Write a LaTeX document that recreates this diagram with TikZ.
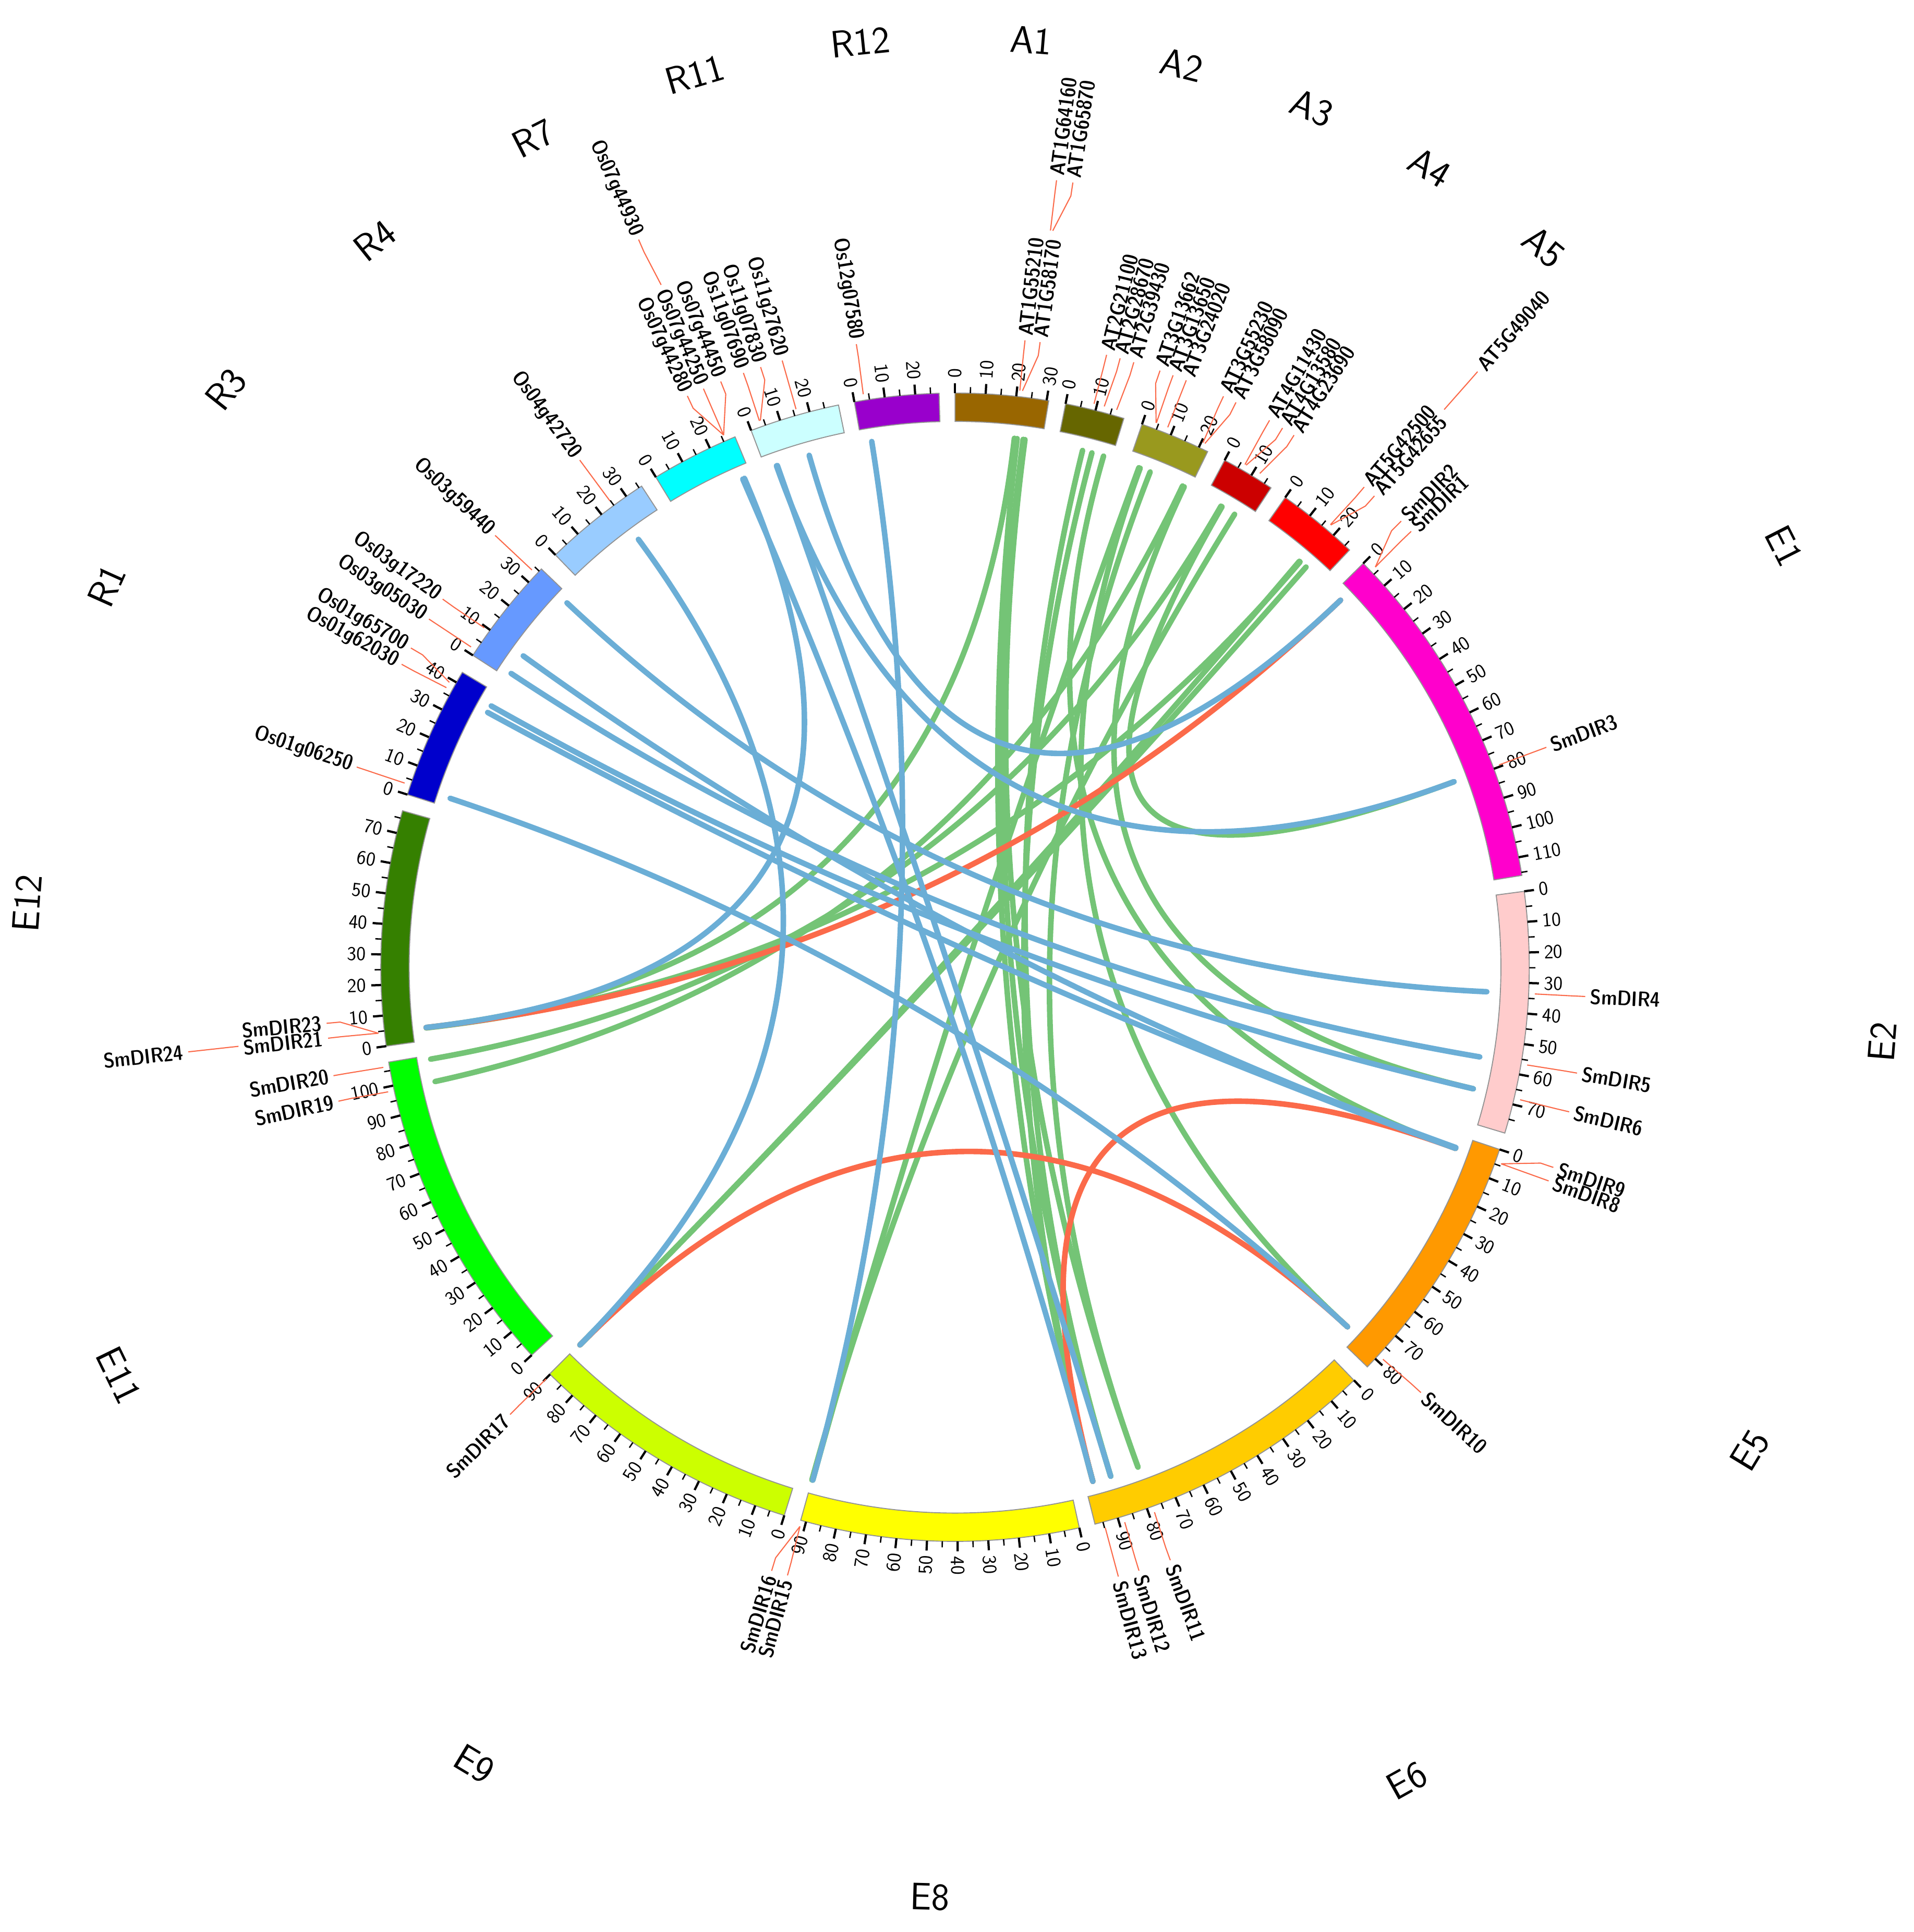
\documentclass[tikz,border=0pt]{standalone}
\usetikzlibrary{calc}

% chromosome colours
\definecolor{cA1}{HTML}{996600}
\definecolor{cA2}{HTML}{666600}
\definecolor{cA3}{HTML}{99991E}
\definecolor{cA4}{HTML}{CC0000}
\definecolor{cA5}{HTML}{FF0000}
\definecolor{cE1}{HTML}{FF00CC}
\definecolor{cE2}{HTML}{FFCCCC}
\definecolor{cE5}{HTML}{FF9900}
\definecolor{cE6}{HTML}{FFCC00}
\definecolor{cE8}{HTML}{FFFF00}
\definecolor{cE9}{HTML}{CCFF00}
\definecolor{cE11}{HTML}{00FF00}
\definecolor{cE12}{HTML}{358000}
\definecolor{cR1}{HTML}{0000CC}
\definecolor{cR3}{HTML}{6699FF}
\definecolor{cR4}{HTML}{99CCFF}
\definecolor{cR7}{HTML}{00FFFF}
\definecolor{cR11}{HTML}{CCFFFF}
\definecolor{cR12}{HTML}{9900CC}
\definecolor{lnkblue}{HTML}{6BAED6}
\definecolor{lnkgreen}{HTML}{74C476}
\definecolor{lnkred}{HTML}{FB6A4A}

\newcommand\mbdeg{0.306}

\tikzset{
  chrbox/.style={draw=gray!85, line width=0.8pt},
  majtick/.style={line width=1.8pt},
  mintick/.style={line width=1.1pt},
  ticknum/.style={inner sep=0pt, font={\sffamily\fontsize{16}{16}\selectfont}},
  genetxt/.style={inner sep=0pt, font={\sffamily\fontseries{sbc}\fontsize{17}{17}\selectfont}},
  chrlab/.style={inner sep=0pt, font={\sffamily\fontsize{31}{31}\selectfont}},
  leader/.style={lnkred, line width=0.9pt},
  lnkO/.style={lnkblue, line width=4.5pt, line cap=round},
  lnkA/.style={lnkgreen, line width=4.5pt, line cap=round},
  lnkS/.style={lnkred, line width=4.5pt, line cap=round},
}

% text along a radius, turned round on the left half
\newcommand\radlabel[5]{%
  \pgfmathsetmacro\rlth{90-#2}%
  \pgfmathtruncatemacro\rlflip{#2>180 ? 1 : 0}%
  \ifnum\rlflip=1
    \node[#4, anchor=east, rotate=\rlth+180] (#1) at (\rlth:{#3}) {#5};%
  \else
    \node[#4, anchor=west, rotate=\rlth] (#1) at (\rlth:{#3}) {#5};%
  \fi}

% gene label: name, gene angle, label angle, start radius
\newcommand\genelab[4]{%
  \draw[leader] ({90-#2}:#4) -- ({90-#3}:{#4+30}) -- ({90-#3}:{#4+41});
  \radlabel{#1}{#3}{#4+45}{genetxt}{#1}}

% link through the centre
\newcommand\lnk[3]{%
  \draw[#1] (p-#2) .. controls ($(p-#2)!2/3!(O)$) and ($(p-#3)!2/3!(O)$) .. (p-#3);}

\begin{document}
\begin{tikzpicture}[x=1pt, y=1pt]
\useasboundingbox (-775,-783) rectangle (778,785);
\coordinate (O) at (0,0);

% chromosomes, ticks and names
\foreach \nm/\cst/\clen in {A1/0/30.7, A2/11.1/19.6, A3/19.0/23.2, A4/28.0/17.6, A5/35.1/27.1,
    E1/45.3/116, E2/82.4/79.7, E5/108.5/83.7, E6/136.0/97.7, E8/167.5/91.8, E9/197.3/90.2,
    E11/227.5/107.8, E12/262.1/77.5, R1/287.5/43.8, R3/302.9/36, R4/315.9/36,
    R7/328.6/29, R11/339.2/29.7, R12/349.9/27.8}{
  \pgfmathsetmacro\cend{\cst+\clen*\mbdeg}
  \filldraw[chrbox, fill=c\nm] ({90-\cst}:443) arc[start angle={90-\cst}, end angle={90-\cend}, radius=443]
    -- ({90-\cend}:466) arc[start angle={90-\cend}, end angle={90-\cst}, radius=466] -- cycle;
  \foreach \tk in {0,5,...,\clen}{
    \pgfmathsetmacro\ta{\cst+\tk*\mbdeg}
    \pgfmathtruncatemacro\ismaj{mod(\tk,10)==0 ? 1 : 0}
    \ifnum\ismaj=1
      \draw[majtick] ({90-\ta}:466) -- ({90-\ta}:474);
      \pgfmathtruncatemacro\tn{\tk}
      \radlabel{\nm-\tn}{\ta}{478}{ticknum}{\tn}
    \else
      \draw[mintick] ({90-\ta}:466) -- ({90-\ta}:471);
    \fi
  }
  \pgfmathsetmacro\cmid{\cst+\clen*\mbdeg/2}
  \pgfmathsetmacro\crot{(\cmid>90 && \cmid<270) ? 180-\cmid : -\cmid}
  \node[chrlab, rotate=\crot] (lab-\nm) at ({90-\cmid}:755) {\nm};
}

% gene labels
\genelab{Os01g06250}{288.5}{288.5}{471}
\genelab{Os01g62030}{298.8}{298.7}{471}
\genelab{Os01g65700}{299.4}{300.4}{471}
\genelab{Os03g05030}{303.5}{303.5}{471}
\genelab{Os03g17220}{305.8}{305.7}{471}
\genelab{Os03g59440}{313.2}{313.2}{471}
\genelab{Os04g42720}{323.5}{323.5}{471}
\genelab{Os07g44280}{336.5}{334.9}{471}
\genelab{Os07g44250}{336.5}{336.5}{471}
\genelab{Os07g44450}{336.5}{338.2}{471}
\genelab{Os07g44930}{336.7}{336.5}{603}
\genelab{Os11g07690}{340.3}{340.4}{471}
\genelab{Os11g07830}{340.4}{342.05}{471}
\genelab{Os11g27620}{344.1}{344.1}{471}
\genelab{Os12g07580}{350.9}{351.0}{471}
\genelab{AT1G55210}{6.41}{6.37}{471}
\genelab{AT1G58170}{6.67}{7.75}{471}
\genelab{AT1G64160}{7.38}{7.35}{603}
\genelab{AT1G65870}{7.56}{8.54}{603}
\genelab{AT2G21100}{13.86}{13.9}{471}
\genelab{AT2G28670}{14.9}{15.17}{471}
\genelab{AT2G39430}{16.17}{16.46}{471}
\genelab{AT3G13662}{20.27}{18.96}{471}
\genelab{AT3G13650}{20.3}{20.22}{471}
\genelab{AT3G24020}{21.5}{21.5}{471}
\genelab{AT3G55230}{25.3}{25.18}{471}
\genelab{AT3G58090}{25.5}{26.44}{471}
\genelab{AT4G11430}{29.97}{29.9}{471}
\genelab{AT4G13580}{30.1}{31.27}{471}
\genelab{AT4G23690}{31.68}{32.5}{471}
\genelab{AT5G42500}{40.3}{40.43}{471}
\genelab{AT5G42655}{40.35}{41.66}{471}
\genelab{AT5G49040}{41.25}{41.26}{602}
\genelab{SmDIR2}{46.4}{45.0}{471}
\genelab{SmDIR1}{46.4}{46.3}{471}
\genelab{SmDIR3}{69.6}{69.6}{471}
\genelab{SmDIR4}{92.64}{92.66}{471}
\genelab{SmDIR5}{99.7}{99.66}{471}
\genelab{SmDIR6}{103.2}{103.25}{471}
\genelab{SmDIR9}{109.8}{108.5}{471}
\genelab{SmDIR8}{109.8}{109.8}{471}
\genelab{SmDIR10}{132.5}{132.4}{471}
\genelab{SmDIR11}{159.9}{160.05}{471}
\genelab{SmDIR12}{163.0}{163.05}{471}
\genelab{SmDIR13}{165.0}{165.0}{471}
\genelab{SmDIR15}{195.5}{195.4}{471}
\genelab{SmDIR16}{195.5}{196.9}{471}
\genelab{SmDIR17}{224.8}{224.85}{471}
\genelab{SmDIR19}{257.6}{257.74}{471}
\genelab{SmDIR20}{260.06}{260.1}{471}
\genelab{SmDIR21}{263.47}{263.54}{471}
\genelab{SmDIR23}{263.47}{264.9}{471}
\genelab{SmDIR24}{263.7}{263.7}{585}

% link ends
\foreach \g/\a in {Os01g06250/288.5, Os01g62030/298.6, Os01g65700/299.4, Os03g05030/303.5,
    Os03g17220/305.8, Os03g59440/313.2, Os04g42720/323.5, Os07g44250/336.5, Os07g44930/336.7,
    Os11g07690/340.4, Os11g07830/340.5, Os11g27620/344.1, Os12g07580/351.0,
    AT1G55210/6.4, AT1G58170/6.7, AT1G64160/7.35, AT1G65870/7.55, AT2G21100/13.86,
    AT2G28670/14.9, AT2G39430/16.2, AT3G13662/20.2, AT3G13650/20.35, AT3G24020/21.5,
    AT3G55230/25.3, AT3G58090/25.5, AT4G11430/29.97, AT4G13580/30.1, AT4G23690/31.68,
    AT5G42500/40.3, AT5G42655/40.4, AT5G49040/41.25,
    SmDIR1/46.4, SmDIR3/69.6, SmDIR4/92.64, SmDIR5/99.7, SmDIR6/103.2, SmDIR8/109.8,
    SmDIR9/109.9, SmDIR10/132.5, SmDIR11/159.9, SmDIR12/163.0, SmDIR13/165.0, SmDIR15/195.5,
    SmDIR16/195.6, SmDIR17/224.8, SmDIR19/257.6, SmDIR20/260.06, SmDIR21/263.5, SmDIR23/263.45}
  \coordinate (p-\g) at ({90-\a}:432);

% Arabidopsis - eggplant
\lnk{lnkA}{AT1G55210}{SmDIR21}
\lnk{lnkA}{AT1G58170}{SmDIR13}
\lnk{lnkA}{AT1G64160}{SmDIR12}
\lnk{lnkA}{AT1G65870}{SmDIR11}
\lnk{lnkA}{AT2G21100}{SmDIR12}
\lnk{lnkA}{AT2G28670}{SmDIR13}
\lnk{lnkA}{AT2G39430}{SmDIR9}
\lnk{lnkA}{AT3G13662}{SmDIR15}
\lnk{lnkA}{AT3G13650}{SmDIR10}
\lnk{lnkA}{AT3G24020}{SmDIR11}
\lnk{lnkA}{AT3G55230}{SmDIR19}
\lnk{lnkA}{AT3G58090}{SmDIR6}
\lnk{lnkA}{AT4G11430}{SmDIR20}
\lnk{lnkA}{AT4G13580}{SmDIR3}
\lnk{lnkA}{AT4G23690}{SmDIR16}
\lnk{lnkA}{AT5G42500}{SmDIR17}
\lnk{lnkA}{AT5G42655}{SmDIR23}
\lnk{lnkA}{AT5G49040}{SmDIR17}

% eggplant - eggplant
\lnk{lnkS}{SmDIR21}{SmDIR1}
\lnk{lnkS}{SmDIR17}{SmDIR10}
\lnk{lnkS}{SmDIR9}{SmDIR13}

% rice - eggplant
\lnk{lnkO}{Os01g06250}{SmDIR10}
\lnk{lnkO}{Os01g62030}{SmDIR9}
\lnk{lnkO}{Os01g65700}{SmDIR6}
\lnk{lnkO}{Os03g05030}{SmDIR5}
\lnk{lnkO}{Os03g17220}{SmDIR8}
\lnk{lnkO}{Os03g59440}{SmDIR4}
\lnk{lnkO}{Os04g42720}{SmDIR17}
\lnk{lnkO}{Os07g44250}{SmDIR13}
\lnk{lnkO}{Os07g44930}{SmDIR21}
\lnk{lnkO}{Os11g07690}{SmDIR3}
\lnk{lnkO}{Os11g07830}{SmDIR12}
\lnk{lnkO}{Os11g27620}{SmDIR1}
\lnk{lnkO}{Os12g07580}{SmDIR15}
\end{tikzpicture}
\end{document}
